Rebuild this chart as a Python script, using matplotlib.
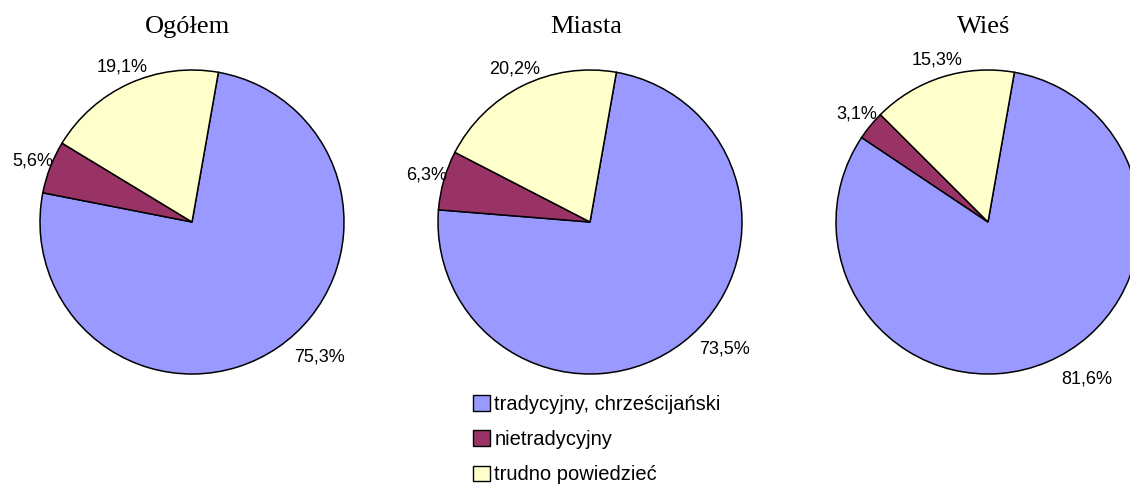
import matplotlib.pyplot as plt
import numpy as np

# data
groups = ['Ogółem', 'Miasta', 'Wieś']
categories = ['tradycyjny, chrześcijański', 'nietradycyjny', 'trudno powiedzieć']
ogolem = [75.3, 5.6, 19.1]
miasta = [73.5, 6.3, 20.2]
wies = [81.6, 3.1, 15.3]
colors = ['#9999FF', '#993366', '#FFFFCC']

W, H = 1130, 484
centers_x = [192, 590, 988]
center_y = H - 222
radius = 152

fig = plt.figure(figsize=(W / 100, H / 100), dpi=100)
ax = fig.add_axes([0, 0, 1, 1])

wedges_all = []
for cx, title, vals in zip(centers_x, groups, [ogolem, miasta, wies]):
    wedges, _ = ax.pie(vals, colors=colors, startangle=80, counterclock=False,
                       center=(cx, center_y), radius=radius, frame=True,
                       wedgeprops=dict(edgecolor='black', linewidth=1.1))
    wedges_all.append(wedges)
    for i, (w, v) in enumerate(zip(wedges, vals)):
        mid = (w.theta1 + w.theta2) / 2
        if i == 0:
            ang, rf = np.deg2rad(mid + 9), 1.22
        else:
            ang, rf = np.deg2rad(mid), 1.12
        ax.text(cx + rf * radius * np.cos(ang), center_y + rf * radius * np.sin(ang),
                f'{v:.1f}'.replace('.', ',') + '%', ha='center', va='center',
                fontsize=13, family='Liberation Sans')
    ax.text(cx - 4, H - 27, title, ha='center', va='center', fontsize=19,
            family='Liberation Serif')

ax.set_xlim(0, W)
ax.set_ylim(0, H)
ax.axis('off')

leg = fig.legend(wedges_all[0], categories, loc='upper left',
                 bbox_to_anchor=(463 / W, 1 - 385 / H), frameon=False,
                 prop={'family': 'Liberation Sans', 'size': 14.5},
                 handlelength=0.85, handleheight=0.8, handletextpad=0.2,
                 labelspacing=0.8, borderpad=0)
for h in leg.legend_handles:
    h.set_linewidth(1.0)

fig.savefig('out.png', dpi=100)
